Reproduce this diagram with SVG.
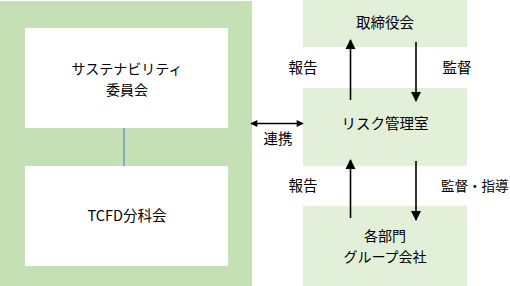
<svg xmlns="http://www.w3.org/2000/svg" width="510" height="286" viewBox="0 0 510 286">
<defs>
<style>
text{font-family:"Noto Sans CJK JP","Noto Sans",sans-serif;font-size:14.5px;fill:#000;text-anchor:middle}
.two{font-size:14px}
.panel{fill:#c5e0b4}
.wbox{fill:#fff}
.gbox{fill:#e2efd9}
.arr{stroke:#000;stroke-width:1.6;fill:none}
</style>
<marker id="ah" viewBox="0 0 10 10" refX="9" refY="5" markerWidth="8" markerHeight="7" markerUnits="userSpaceOnUse" orient="auto-start-reverse">
<path d="M0,0 L10,5 L0,10 Z" fill="#000"/>
</marker>
<marker id="ahb" viewBox="0 0 10 10" refX="9" refY="5" markerWidth="10" markerHeight="13" markerUnits="userSpaceOnUse" orient="auto">
<path d="M0,0 L10,5 L0,10 Z" fill="#000"/>
</marker>
</defs>
<rect class="panel" x="0" y="1" width="252" height="285"/>
<g id="sustainability">
<rect class="wbox" x="25" y="28" width="203" height="100"/>
<text class="two" x="127" y="74">サステナビリティ</text>
<text class="two" x="127" y="94.5">委員会</text>
</g>
<g id="tcfd">
<rect class="wbox" x="25" y="166" width="203" height="100"/>
<text x="127" y="221">TCFD分科会</text>
</g>
<g id="board">
<rect class="gbox" x="303" y="0" width="164" height="47"/>
<text x="385" y="28">取締役会</text>
</g>
<g id="risk">
<rect class="gbox" x="303" y="88" width="164" height="78"/>
<text x="385" y="129">リスク管理室</text>
</g>
<g id="depts">
<rect class="gbox" x="303" y="206" width="164" height="80"/>
<text class="two" x="385" y="241">各部門</text>
<text class="two" x="385" y="261.5">グループ会社</text>
</g>
<g id="connectors">
<line x1="124" y1="128" x2="124" y2="166" stroke="#4472c4" stroke-width="1"/>
<line class="arr" x1="251" y1="123.5" x2="303" y2="123.5" marker-start="url(#ah)" marker-end="url(#ah)"/>
<line class="arr" x1="350.5" y1="100" x2="350.5" y2="40" marker-end="url(#ahb)"/>
<line class="arr" x1="416" y1="42" x2="416" y2="101" marker-end="url(#ahb)"/>
<line class="arr" x1="350.5" y1="218" x2="350.5" y2="160" marker-end="url(#ahb)"/>
<line class="arr" x1="416" y1="161" x2="416" y2="220" marker-end="url(#ahb)"/>
</g>
<g id="labels">
<text x="303" y="73">報告</text>
<text x="457" y="73">監督</text>
<text x="278" y="144">連携</text>
<text x="303" y="191">報告</text>
<text x="441" y="191" style="text-anchor:start;font-size:13.5px">監督・指導</text>
</g>
</svg>
